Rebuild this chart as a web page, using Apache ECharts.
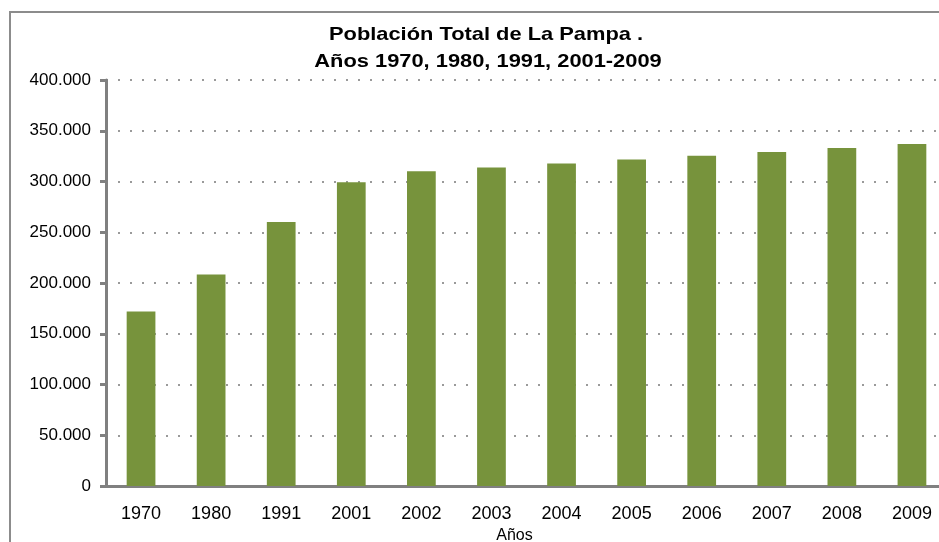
<!DOCTYPE html>
<html>
<head>
<meta charset="utf-8">
<script src="https://cdn.jsdelivr.net/npm/echarts@6/dist/echarts.min.js"></script>
<style>
    html, body { margin: 0; padding: 0; background: #fff; }
    #chart { width: 939px; height: 542px; }
</style>
</head>
<body>
<div id="chart"></div>
<script>
// Población total de La Pampa (habitantes)
var years = ['1970', '1980', '1991', '2001', '2002', '2003', '2004', '2005', '2006', '2007', '2008', '2009'];
var poblacion = [172029, 208260, 259996, 299294, 310000, 313900, 317800, 321600, 325300, 329100, 333000, 336900];
var yTicks = [0, 50000, 100000, 150000, 200000, 250000, 300000, 350000, 400000];
var tituloLineas = ['Población Total de La Pampa .', 'Años 1970, 1980, 1991, 2001-2009'];

// separador de miles con punto
var fmtMiles = function (v) {
    return String(v).replace(/\B(?=(\d{3})+(?!\d))/g, '.');
};

// texto del título (ensanchado como en el original)
var tituloTexto = function (txt, x, y) {
    return {
        type: 'text',
        x: x,
        y: y,
        scaleX: 1.15,
        silent: true,
        style: {
            text: txt,
            x: 0,
            y: 0,
            align: 'center',
            verticalAlign: 'middle',
            fontFamily: 'Liberation Sans',
            fontWeight: 'bold',
            fontSize: 19,
            fill: '#000'
        }
    };
};

var my_chart = echarts.init(document.getElementById('chart'));
var option = {
    animation: false,
    graphic: [
        {
            type: 'rect',
            shape: { x: 10, y: 12, width: 1000, height: 700 },
            style: { fill: 'none', stroke: '#8c8c8c', lineWidth: 2 },
            silent: true
        },
        tituloTexto(tituloLineas[0], 486, 35),
        tituloTexto(tituloLineas[1], 488, 62)
    ],
    grid: {
        left: 106,
        top: 80,
        width: 841,
        height: 406,
        outerBoundsMode: 'none',
        containLabel: false
    },
    xAxis: {
        type: 'category',
        data: years,
        name: 'Años',
        nameLocation: 'middle',
        nameGap: 35,
        nameTextStyle: {
            fontFamily: 'Liberation Sans',
            fontSize: 16,
            color: '#000',
            padding: [0, 24, 0, 0]
        },
        axisLine: { lineStyle: { color: '#808080', width: 3 } },
        axisTick: { show: false },
        axisLabel: {
            fontFamily: 'Liberation Sans',
            fontSize: 18,
            color: '#000',
            margin: 19,
            interval: 0
        }
    },
    yAxis: {
        type: 'value',
        min: yTicks[0],
        max: yTicks[yTicks.length - 1],
        interval: 50000,
        axisLine: { show: true, lineStyle: { color: '#808080', width: 3 } },
        axisTick: { show: true, length: 6, lineStyle: { color: '#808080', width: 3 } },
        axisLabel: {
            fontFamily: 'Liberation Sans',
            fontSize: 17,
            color: '#000',
            margin: 15,
            formatter: fmtMiles
        },
        splitLine: {
            show: true,
            lineStyle: { color: '#9a9a9a', width: 2, type: [2, 10] }
        }
    },
    series: [{
        type: 'bar',
        data: poblacion,
        barWidth: '41%',
        itemStyle: { color: '#77933C' }
    }]
};
my_chart.setOption(option);
</script>
</body>
</html>
